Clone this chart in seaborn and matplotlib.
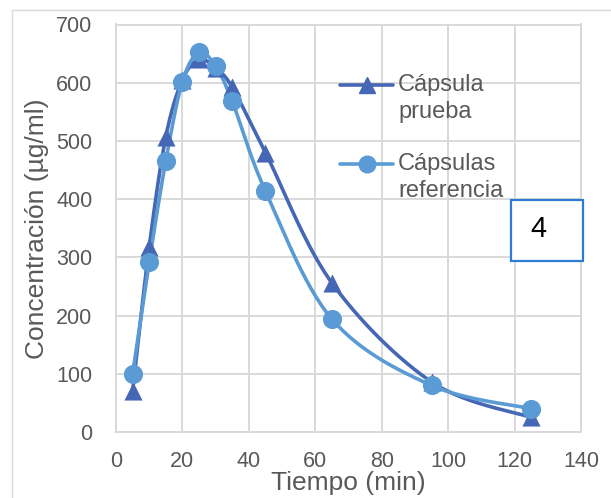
import numpy as np
import pandas as pd
import matplotlib
matplotlib.use("Agg")
import matplotlib.pyplot as plt
from matplotlib.lines import Line2D
from matplotlib.patches import Rectangle
import seaborn as sns

# Sampling times (min)
tiempo = [5, 10, 15, 20, 25, 30, 35, 45, 65, 95, 125]
# Plasma concentration (µg/ml)
capsula_prueba = [70, 318, 507, 605, 640, 625, 592, 480, 256, 86, 25]
capsulas_referencia = [100, 292, 466, 602, 652, 628, 568, 414, 194, 80, 40]

series_names = ["Cápsula\nprueba", "Cápsulas\nreferencia"]
x_ticks = [0, 20, 40, 60, 80, 100, 120, 140]
y_ticks = [0, 100, 200, 300, 400, 500, 600, 700]

COL_PRUEBA = "#4567B5"
COL_REF = "#5B9BD5"
GRID = "#D9D9D9"
TXT = "#595959"


def smooth_curve(x, y, n=30):
    """Catmull-Rom style Bezier path through the points (spreadsheet-like smoothing)."""
    p = np.column_stack([x, y]).astype(float)
    p_ext = np.vstack([p[0], p, p[-1]])
    out = []
    for i in range(1, len(p_ext) - 2):
        p0, p1, p2, p3 = p_ext[i - 1], p_ext[i], p_ext[i + 1], p_ext[i + 2]
        c1 = p1 + (p2 - p0) / 6.0
        c2 = p2 - (p3 - p1) / 6.0
        t = np.linspace(0, 1, n, endpoint=(i == len(p_ext) - 3))[:, None]
        seg = ((1 - t) ** 3) * p1 + 3 * ((1 - t) ** 2) * t * c1 + 3 * (1 - t) * t ** 2 * c2 + t ** 3 * p2
        out.append(seg)
    return np.vstack(out)


sns.set_theme(style="whitegrid")
plt.rcParams["font.family"] = ["Liberation Sans", "DejaVu Sans"]

fig = plt.figure(figsize=(6.11, 4.98), dpi=100)
W, H = 611, 498
L, R, T, B = 116, 581, 24.5, 432
ax = fig.add_axes([L / W, 1 - B / H, (R - L) / W, (B - T) / H])
ax.set_facecolor("white")

df = pd.DataFrame({
    "tiempo": tiempo * 2,
    "conc": capsula_prueba + capsulas_referencia,
    "serie": [series_names[0]] * len(tiempo) + [series_names[1]] * len(tiempo),
})

for name, color, marker, ms in [(series_names[0], COL_PRUEBA, "^", 170),
                                 (series_names[1], COL_REF, "o", 190)]:
    sub = df[df["serie"] == name]
    curve = smooth_curve(sub["tiempo"].values, sub["conc"].values)
    sns.lineplot(x=curve[:, 0], y=curve[:, 1], sort=False, color=color,
                 linewidth=2.6, ax=ax, zorder=3)
    sns.scatterplot(x=sub["tiempo"], y=sub["conc"], color=color, marker=marker,
                    s=ms, edgecolor=color, linewidth=0, ax=ax, zorder=4)

ax.set_xlim(0, 140)
ax.set_ylim(0, 700)
ax.set_xticks(x_ticks)
ax.set_yticks(y_ticks)
ax.set_xticklabels([str(v) for v in x_ticks])
ax.set_yticklabels([str(v) for v in y_ticks])
ax.grid(True, color=GRID, linewidth=1.4)
for s in ax.spines.values():
    s.set_visible(True)
    s.set_color(GRID)
    s.set_linewidth(1.4)
ax.tick_params(axis="both", length=0, labelsize=15.5, colors=TXT)
ax.tick_params(axis="x", pad=14)
ax.tick_params(axis="y", pad=17)

ax.set_xlabel("Tiempo (min)", fontsize=19, color=TXT, labelpad=-1)
ax.set_ylabel("Concentración (µg/ml)", fontsize=19, color=TXT, labelpad=5)

# Legend drawn inside the plot area, handle aligned with the first label line
def axfrac(px, py):
    return (px - L) / (R - L), (B - py) / (B - T)

for (name, color, marker, ms), hy, ty1, ty2 in [
        ((series_names[0], COL_PRUEBA, "^", 11), 85, 85, 112),
        ((series_names[1], COL_REF, "o", 12), 164, 164, 191)]:
    x0, yy = axfrac(340, hy)
    x1, _ = axfrac(393, hy)
    xm, _ = axfrac(366.5, hy)
    ax.add_line(Line2D([x0, x1], [yy, yy], transform=ax.transAxes, color=color,
                       linewidth=2.6, zorder=6, clip_on=False))
    ax.add_line(Line2D([xm], [yy], transform=ax.transAxes, color=color, marker=marker,
                       markersize=ms, linestyle="none", zorder=7, clip_on=False))
    line1, line2 = name.split("\n")
    tx, y1 = axfrac(398, ty1)
    _, y2 = axfrac(398, ty2)
    ax.text(tx, y1, line1, transform=ax.transAxes, fontsize=17, color=TXT, va="center", ha="left", zorder=7)
    ax.text(tx, y2, line2, transform=ax.transAxes, fontsize=17, color=TXT, va="center", ha="left", zorder=7)

# Boxed panel number
fig.patches.append(Rectangle((511 / W, 1 - 261 / H), 72 / W, 61 / H, transform=fig.transFigure,
                             facecolor="white", edgecolor="#2E7BD6", linewidth=1.6, zorder=10))
fig.text(538 / W, 1 - 229 / H, "4", fontsize=21, color="black", ha="center", va="center", zorder=11)

# Outer frame edges
fig.add_artist(Line2D([12 / W, 1.0], [1 - 10 / H, 1 - 10 / H], transform=fig.transFigure,
                      color="#D9D9D9", linewidth=1.0))
fig.add_artist(Line2D([12 / W, 12 / W], [0, 1 - 10 / H], transform=fig.transFigure,
                      color="#D9D9D9", linewidth=1.0))

fig.savefig("out.png", dpi=100, facecolor="white")
